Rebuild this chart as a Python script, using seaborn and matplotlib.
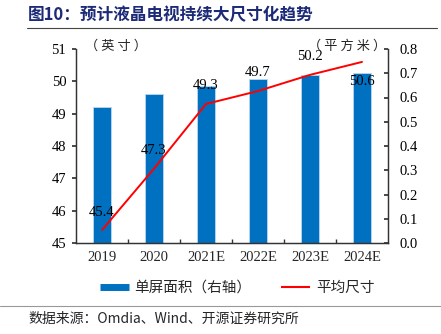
import matplotlib
matplotlib.use("Agg")
import matplotlib.pyplot as plt
import seaborn as sns
import pandas as pd
from matplotlib.lines import Line2D

years = ["2019", "2020", "2021E", "2022E", "2023E", "2024E"]
avg_size = [45.4, 47.3, 49.3, 49.7, 50.2, 50.6]
screen_area = [0.56, 0.614, 0.646, 0.676, 0.691, 0.70]
left_ticks = [45, 46, 47, 48, 49, 50, 51]
right_ticks = [0.0, 0.1, 0.2, 0.3, 0.4, 0.5, 0.6, 0.7, 0.8]

sns.set_theme(style="ticks")
CJK = ["Noto Sans CJK SC", "DejaVu Sans"]
NUM = ["Liberation Serif", "Noto Sans CJK SC"]
plt.rcParams["font.family"] = NUM
plt.rcParams["axes.unicode_minus"] = False

df = pd.DataFrame({"year": years, "size": avg_size, "area": screen_area})

fig = plt.figure(figsize=(4.41, 3.34), dpi=100)
ax = fig.add_axes([76 / 441, 1 - 243 / 334, 312 / 441, 194 / 334])

# bars -> right axis (drawn on base axes, y axis moved to right)
sns.barplot(data=df, x="year", y="area", ax=ax, color="#0070C0", width=0.35,
            edgecolor="#BDD7EE", linewidth=0.6, saturation=1)
ax.set_xlim(-0.5, 5.5)
ax.set_xlabel("")
ax.set_ylabel("")

# line -> left axis
ax2 = ax.twinx()
sns.lineplot(data=df, x="year", y="size", ax=ax2, color="#FF0000", linewidth=1.4, sort=False)
ax2.set_ylim(45, 51)
ax2.set_yticks(left_ticks)
ax2.set_yticklabels([str(v) for v in left_ticks])
ax2.set_ylabel("")
ax2.set_xlabel("")
ax2.set_xlim(-0.5, 5.5)
ax2.patch.set_alpha(0)

ax.set_ylim(0, 0.8)
ax.set_yticks(right_ticks)
ax.set_yticklabels([f"{v:.1f}" for v in right_ticks])

# swap sides: bars' axis on the right, line's axis on the left
ax.yaxis.tick_right()
ax2.yaxis.tick_left()

for i, v in enumerate(avg_size):
    dy = -14 if i == len(avg_size) - 1 else 13
    ax2.annotate(f"{v:.1f}", (i, v), xytext=(0, dy), textcoords="offset points",
                 ha="center", va="center", fontsize=10.5, family=NUM, color="black")

# spines and ticks
for a in (ax, ax2):
    a.spines["top"].set_visible(False)
    for s in ("left", "right", "bottom"):
        a.spines[s].set_color("#333333")
        a.spines[s].set_linewidth(0.9)
ax.tick_params(axis="y", direction="in", length=3, labelsize=10.5, pad=8, colors="#333333", labelcolor="black")
ax2.tick_params(axis="y", direction="out", length=3, labelsize=10.5, pad=4, colors="#333333", labelcolor="black")
ax.set_xticks(range(len(years)))
ax.set_xticklabels(years)
ax.tick_params(axis="x", length=0, labelsize=10.5, pad=6)
ax.set_xticks([i + 0.5 for i in range(len(years) - 1)], minor=True)
ax.tick_params(axis="x", which="minor", direction="in", length=3, colors="#333333")
for lab in ax.get_xticklabels() + ax.get_yticklabels() + ax2.get_yticklabels():
    lab.set_family(NUM)

# unit labels
fig.text(85 / 441, 1 - 46 / 334, "（ 英 寸 ）", fontsize=9.5, family=CJK, va="center", ha="left")
fig.text(386 / 441, 1 - 46 / 334, "（ 平 方 米 ）", fontsize=9.5, family=CJK, va="center", ha="right")

# legend
handles = [Line2D([0], [0], color="#0070C0", linewidth=5, solid_capstyle="butt"),
           Line2D([0], [0], color="#FF0000", linewidth=1.5, solid_capstyle="butt")]
fig.legend(handles, ["单屏面积（右轴）", "平均尺寸"], loc="center",
           bbox_to_anchor=(237 / 441, 1 - 288 / 334),
           ncol=2, frameon=False, prop={"family": CJK, "size": 10.5}, handlelength=2.0,
           columnspacing=2.0, handletextpad=0.4)

# title and source
fig.text(28 / 441, 1 - 15 / 334, "图10：预计液晶电视持续大尺寸化趋势", fontsize=12, fontweight="bold",
         color="#1C2A78", family=CJK, va="center", ha="left")
fig.add_artist(Line2D([27 / 441, 437 / 441], [1 - 28 / 334, 1 - 28 / 334], color="#444444", linewidth=0.8))
fig.add_artist(Line2D([0 / 441, 441 / 441], [1 - 306 / 334, 1 - 306 / 334], color="#999999", linewidth=0.8))
fig.text(28 / 441, 1 - 319 / 334, "数据来源：Omdia、Wind、开源证券研究所", fontsize=10,
         family=CJK, va="center", ha="left")

fig.savefig("out.png", dpi=100)
